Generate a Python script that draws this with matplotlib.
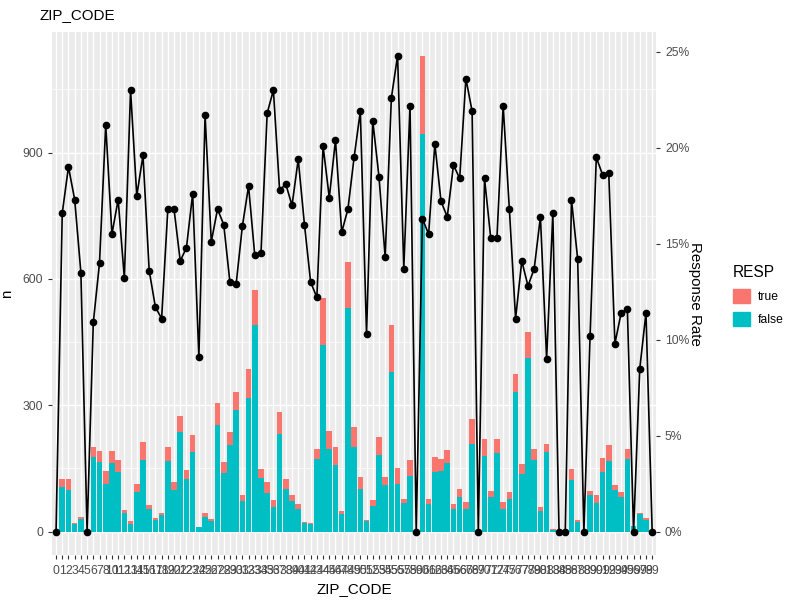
import matplotlib.pyplot as plt
from matplotlib.patches import Patch
import numpy as np

# zip codes on the x axis (a few codes are absent from the data)
zip_codes = ['0', '1', '2', '3', '4', '5', '6', '7', '8', '10',
             '11', '12', '13', '14', '15', '16', '17', '18', '19', '20',
             '21', '22', '23', '24', '25', '26', '27', '28', '29', '30',
             '31', '32', '33', '34', '35', '36', '37', '38', '39', '40',
             '41', '42', '43', '44', '45', '46', '47', '48', '49', '50',
             '51', '52', '53', '54', '55', '56', '57', '58', '59', '60',
             '61', '62', '63', '64', '65', '66', '67', '68', '69', '70',
             '71', '72', '74', '75', '76', '77', '78', '79', '80', '81',
             '83', '84', '85', '86', '87', '88', '89', '90', '91', '92',
             '93', '94', '95', '96', '97', '98', '99']

# counts per zip code
n_false = [1, 105, 100, 18, 30, 1, 178, 165, 114, 162,
           141, 44, 19, 94, 171, 54, 28, 39, 168, 98,
           236, 124, 190, 11, 35, 25, 254, 139, 206, 289,
           73, 317, 491, 127, 92, 58, 233, 102, 72, 53,
           20, 18, 172, 443, 197, 159, 41, 532, 200, 101,
           25, 60, 183, 111, 380, 114, 67, 132, 1, 945,
           66, 141, 143, 162, 53, 82, 54, 209, 1, 180,
           82, 186, 54, 78, 332, 138, 413, 169, 49, 189,
           5, 1, 1, 122, 24, 1, 87, 69, 142, 167,
           100, 83, 173, 13, 41, 28, 1]
n_true = [0, 20, 25, 3, 5, 0, 22, 27, 30, 30,
          29, 7, 6, 20, 42, 9, 4, 5, 34, 20,
          39, 22, 40, 1, 9, 5, 52, 26, 31, 43,
          14, 69, 83, 21, 26, 17, 51, 23, 15, 13,
          4, 3, 24, 112, 42, 41, 8, 108, 49, 29,
          3, 16, 42, 19, 111, 37, 11, 38, 0, 185,
          12, 36, 30, 32, 13, 19, 16, 59, 0, 40,
          15, 34, 16, 16, 42, 23, 61, 27, 10, 19,
          1, 0, 0, 26, 4, 0, 10, 17, 33, 39,
          11, 11, 23, 0, 4, 4, 0]

# response rate per zip code, in %
resp_rate = [0, 16.6, 19.0, 17.3, 13.5, 0, 10.9, 14.0, 21.2, 15.5,
             17.3, 13.2, 23.0, 17.5, 19.6, 13.6, 11.7, 11.1, 16.8, 16.8,
             14.1, 14.8, 17.6, 9.1, 21.7, 15.1, 16.8, 16.0, 13.0, 12.9,
             15.9, 18.0, 14.4, 14.5, 21.8, 23.0, 17.8, 18.1, 17.0, 19.4,
             16.0, 13.0, 12.2, 20.1, 17.4, 20.4, 15.6, 16.8, 19.5, 21.9,
             10.3, 21.4, 18.5, 14.3, 22.6, 24.8, 13.7, 22.2, 0, 16.3,
             15.5, 20.2, 17.2, 16.4, 19.1, 18.4, 23.6, 21.9, 0, 18.4,
             15.3, 15.3, 22.2, 16.8, 11.1, 14.1, 12.8, 13.7, 16.4, 9.0,
             16.6, 0, 0, 17.3, 14.2, 0, 10.2, 19.5, 18.6, 18.7,
             9.8, 11.4, 11.6, 0, 8.5, 11.4, 0]

plt.rcParams['font.family'] = ['Liberation Sans', 'DejaVu Sans']

n_false = np.array(n_false)
n_true = np.array(n_true)
rate = np.array(resp_rate) / 100
total = n_false + n_true

# the rate line is drawn on the count scale, like sec_axis in ggplot
scale = total.max() / rate.max()
ymax = max(total.max(), (rate * scale).max())

fig = plt.figure(figsize=(8, 6), dpi=100)
ax = fig.add_axes([0.0654, 0.0742, 0.7545, 0.8728])
ax.set_facecolor('#EBEBEB')

x = np.arange(len(zip_codes))
ax.bar(x, n_false, width=0.9, color='#00BFC4', zorder=2)
ax.bar(x, n_true, bottom=n_false, width=0.9, color='#F8766D', zorder=2)
ax.plot(x, rate * scale, color='black', lw=1.2, marker='o', ms=4.5, zorder=3)

ax.set_xlim(-0.6, len(zip_codes) - 0.4)
ax.set_ylim(-0.05 * ymax, 1.05 * ymax)
ax.set_xticks(x)
ax.set_xticklabels(zip_codes)
ax.set_yticks([0, 300, 600, 900])
ax.set_yticks([150, 450, 750, 1050], minor=True)

ax.set_axisbelow(True)
ax.grid(which='major', color='white', lw=1.0)
ax.grid(which='minor', axis='y', color='white', lw=0.5)
for s in ax.spines.values():
    s.set_visible(False)
ax.tick_params(which='major', colors='#333333', labelcolor='#4D4D4D',
               labelsize=8.7, length=3, width=0.8)
ax.tick_params(which='minor', length=0)

sec = ax.secondary_yaxis('right', functions=(lambda v: v / scale * 100,
                                             lambda p: p * scale / 100))
sec.set_yticks([0, 5, 10, 15, 20, 25])
sec.set_yticklabels(['0%', '5%', '10%', '15%', '20%', '25%'])
sec.spines['right'].set_visible(False)
sec.tick_params(colors='#333333', labelcolor='#4D4D4D', labelsize=8.7,
                length=3, width=0.8)
sec.set_ylabel('Response Rate', fontsize=10.9, rotation=270, labelpad=9)

ax.set_xlabel('ZIP_CODE', fontsize=10.9, labelpad=4)
ax.set_ylabel('n', fontsize=10.9, labelpad=6)
fig.text(40 / 800, 1 - 15 / 600, 'ZIP_CODE', fontsize=10.9, va='center')

fig.legend(handles=[Patch(color='#F8766D', label='true'),
                    Patch(color='#00BFC4', label='false')],
           title='RESP', loc='upper left',
           bbox_to_anchor=(722 / 800, 1 - 254 / 600), frameon=False,
           fontsize=8.7, title_fontsize=11.2, handlelength=1.4,
           handleheight=1.4, labelspacing=0.75, handletextpad=0.7,
           alignment='left')

fig.savefig('out.png', dpi=100)
